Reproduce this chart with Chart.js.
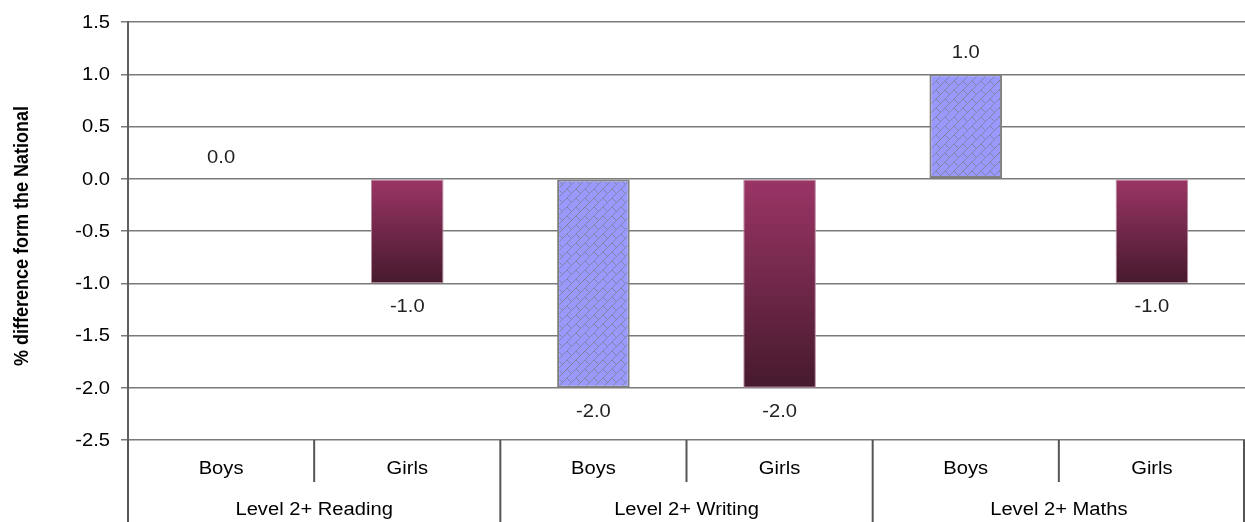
<!DOCTYPE html>
<html>
<head>
<meta charset="utf-8">
<script src="https://cdn.jsdelivr.net/npm/chart.js@4"></script>
<style>
  body { margin: 0; background: #fff; }
  #wrap { width: 1245px; height: 522px; }
</style>
</head>
<body>
<div id="wrap"><canvas id="myChart" width="1245" height="522"></canvas></div>
<script>
// data
const groups = ['Level 2+ Reading', 'Level 2+ Writing', 'Level 2+ Maths'];
const genders = ['Boys', 'Girls'];
const values = [0.0, -1.0, -2.0, -2.0, 1.0, -1.0];
const yMin = -2.5, yMax = 1.5, yStep = 0.5;
const yTitle = '% difference form the National';

const labels = [];
groups.forEach(g => genders.forEach(s => labels.push(s)));

const FONT = '"Liberation Sans", Arial, sans-serif';
const STRETCH = 1.12;

// hatched brick pattern for the boys bars
function makePattern() {
    let tile = document.createElement('canvas');
    tile.width = 9; tile.height = 9;
    let t = tile.getContext('2d');
    t.fillStyle = '#9999ff';
    t.fillRect(0, 0, 9, 9);
    t.strokeStyle = '#8484a8';
    t.lineWidth = 1;
    t.beginPath();
    t.moveTo(-1, 10); t.lineTo(10, -1);
    t.moveTo(0, 0); t.lineTo(4.5, 4.5);
    t.stroke();
    return t.createPattern(tile, 'repeat');
}
const boyPattern = makePattern();

function girlFill(c) {
    let ys = c.chart.scales.y;
    if (!ys || !c.chart.chartArea) return '#7a2a52';
    let y0 = ys.getPixelForValue(0);
    let y1 = ys.getPixelForValue(c.raw);
    if (Math.abs(y1 - y0) < 1) return '#9b3566';
    let g = c.chart.ctx.createLinearGradient(0, Math.min(y0, y1), 0, Math.max(y0, y1));
    g.addColorStop(0, '#9b3566');
    g.addColorStop(1, '#461a2d');
    return g;
}

function drawText(ctx, text, x, y) {
    ctx.save();
    ctx.translate(x, y);
    ctx.scale(STRETCH, 1);
    ctx.fillText(text, 0, 0);
    ctx.restore();
}

const extras = {
    id: 'extras',
    afterDatasetsDraw(chart) {
        let ctx = chart.ctx;
        let meta = chart.getDatasetMeta(0);
        ctx.save();
        ctx.font = '18px ' + FONT;
        ctx.fillStyle = '#222';
        ctx.textAlign = 'center';
        ctx.textBaseline = 'middle';
        meta.data.forEach((bar, i) => {
            let v = values[i];
            let y = v >= 0 ? bar.y - 21 : bar.y + 24;
            drawText(ctx, v.toFixed(1), bar.x, y);
        });
        ctx.restore();
    },
    afterDraw(chart) {
        let ctx = chart.ctx;
        let a = chart.chartArea;
        let x = chart.scales.x;
        let y = chart.scales.y;
        let n = labels.length;
        let w = (a.right - a.left) / n;
        ctx.save();
        ctx.strokeStyle = '#555';
        ctx.lineWidth = 2;
        for (let k = 0; k <= n; k++) {
            let xp = Math.min(a.left + k * w, chart.width - 1);
            let long = k % genders.length === 0;
            ctx.beginPath();
            ctx.moveTo(xp, a.bottom);
            ctx.lineTo(xp, long ? chart.height : a.bottom + 42);
            ctx.stroke();
        }
        ctx.font = '18px ' + FONT;
        ctx.fillStyle = '#000';
        ctx.textBaseline = 'middle';
        // y tick labels
        ctx.textAlign = 'right';
        y.ticks.forEach(t => {
            drawText(ctx, t.value.toFixed(1), 110, y.getPixelForValue(t.value) + 1);
        });
        ctx.textAlign = 'center';
        labels.forEach((lab, i) => {
            drawText(ctx, lab, x.getPixelForValue(i), a.bottom + 29);
        });
        groups.forEach((g, gi) => {
            let i0 = gi * genders.length;
            let cx = (x.getPixelForValue(i0) + x.getPixelForValue(i0 + genders.length - 1)) / 2;
            drawText(ctx, g, cx, a.bottom + 70);
        });
        // y axis title
        ctx.translate(22, (a.top + a.bottom) / 2 + 5);
        ctx.scale(1.15, 1);
        ctx.rotate(-Math.PI / 2);
        ctx.font = 'bold 18px ' + FONT;
        ctx.fillStyle = '#000';
        ctx.fillText(yTitle, 0, 0);
        ctx.restore();
    }
};

let myChart = document.getElementById('myChart').getContext('2d');

let schoolChart = new Chart(myChart, {
    type: 'bar',
    data: {
        labels: labels,
        datasets: [{
            data: values,
            backgroundColor: c => genders[c.dataIndex % 2] === 'Boys' ? boyPattern : girlFill(c),
            borderColor: c => genders[c.dataIndex % 2] === 'Boys' ? '#808080' : '#b88aa0',
            borderWidth: c => genders[c.dataIndex % 2] === 'Boys' ? 2 : 1,
            borderSkipped: false,
            barPercentage: 0.39,
            categoryPercentage: 1
        }]
    },
    options: {
        responsive: false,
        animation: false,
        devicePixelRatio: 1,
        layout: { padding: { top: 22, bottom: 82, left: 0, right: 0 } },
        plugins: {
            legend: { display: false },
            tooltip: { enabled: false }
        },
        scales: {
            x: { display: false },
            y: {
                min: yMin,
                max: yMax,
                afterFit: s => { s.width = 128; },
                ticks: {
                    stepSize: yStep,
                    color: 'rgba(0,0,0,0)',
                    font: { size: 18, family: FONT },
                    padding: 10
                },
                grid: { color: '#7a7a7a', lineWidth: 1.5, tickLength: 7 },
                border: { color: '#606060', width: 2 }
            }
        }
    },
    plugins: [extras]
});
</script>
</body>
</html>
